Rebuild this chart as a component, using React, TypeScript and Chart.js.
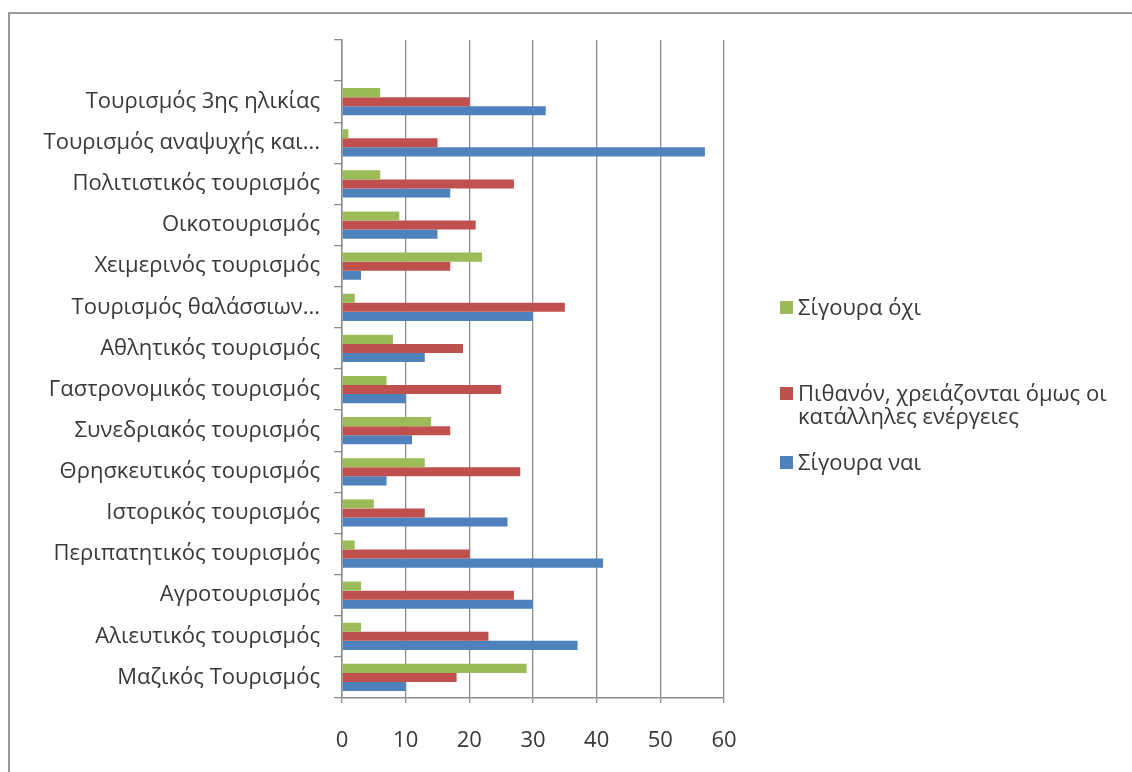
import React, { useEffect, useRef } from "react";
import { Chart, registerables } from "chart.js";

Chart.register(...registerables);

const categories: string[] = [
  "",
  "Τουρισμός 3ης ηλικίας",
  "Τουρισμός αναψυχής και...",
  "Πολιτιστικός τουρισμός",
  "Οικοτουρισμός",
  "Χειμερινός τουρισμός",
  "Τουρισμός θαλάσσιων...",
  "Αθλητικός τουρισμός",
  "Γαστρονομικός τουρισμός",
  "Συνεδριακός τουρισμός",
  "Θρησκευτικός τουρισμός",
  "Ιστορικός τουρισμός",
  "Περιπατητικός τουρισμός",
  "Αγροτουρισμός",
  "Αλιευτικός τουρισμός",
  "Μαζικός Τουρισμός",
];

const seriesNames: string[] = [
  "Σίγουρα όχι",
  "Πιθανόν, χρειάζονται όμως οι κατάλληλες ενέργειες",
  "Σίγουρα ναι",
];

const definitelyNot: (number | null)[] = [null, 6, 1, 6, 9, 22, 2, 8, 7, 14, 13, 5, 2, 3, 3, 29];
const maybe: (number | null)[] = [null, 20, 15, 27, 21, 17, 35, 19, 25, 17, 28, 13, 20, 27, 23, 18];
const definitelyYes: (number | null)[] = [null, 32, 57, 17, 15, 3, 30, 13, 10, 11, 7, 26, 41, 30, 37, 10];

const xTicks: number[] = [0, 10, 20, 30, 40, 50, 60];

const colors = ["#9BBB59", "#C0504D", "#4F81BD"];
const FONT = "'Open Sans', sans-serif";
const FSIZE = 22;

export default function App() {
  const ref = useRef<HTMLCanvasElement | null>(null);

  useEffect(() => {
    if (!ref.current) return;
    const series = [definitelyNot, maybe, definitelyYes];
    const chart = new Chart(ref.current, {
      type: "bar",
      data: {
        labels: categories,
        datasets: series.map((d, i) => ({
          label: seriesNames[i],
          data: d,
          backgroundColor: colors[i],
          borderWidth: 0,
          categoryPercentage: 0.66,
          barPercentage: 1,
        })),
      },
      options: {
        indexAxis: "y",
        animation: false,
        responsive: false,
        maintainAspectRatio: false,
        layout: { padding: { top: 40, right: 408, bottom: 0, left: 0 } },
        plugins: {
          legend: { display: false },
          tooltip: { enabled: false },
        },
        scales: {
          x: {
            min: 0,
            max: 60,
            afterBuildTicks: (s: any) => {
              s.ticks = xTicks.map((v) => ({ value: v }));
            },
            afterFit: (s: any) => {
              s.height = 74;
            },
            grid: {
              color: "#8c8c8c",
              lineWidth: 1.3,
              tickLength: 5,
              drawTicks: true,
            },
            border: { color: "#8c8c8c", width: 1.5 },
            ticks: {
              padding: 25,
              color: "#383838",
              font: { family: FONT, size: FSIZE },
            },
          },
          y: {
            afterFit: (s: any) => {
              s.width = 342;
            },
            grid: {
              offset: true,
              drawOnChartArea: false,
              drawTicks: true,
              tickLength: 8,
              color: "#8c8c8c",
              lineWidth: 1.3,
            },
            border: { color: "#8c8c8c", width: 1.5 },
            ticks: {
              padding: 14,
              color: "#383838",
              font: { family: FONT, size: FSIZE },
              autoSkip: false,
            },
          },
        },
      },
    });
    return () => chart.destroy();
  }, []);

  const legendItem = (i: number, top: number, lines: string[]) => (
    <div
      key={i}
      style={{
        position: "absolute",
        left: 780,
        top,
        display: "flex",
        alignItems: "flex-start",
        fontFamily: FONT,
        fontSize: FSIZE,
        lineHeight: "23px",
        color: "#383838",
        whiteSpace: "nowrap",
      }}
    >
      <div
        style={{
          width: 13,
          height: 13,
          background: colors[i],
          marginTop: 6,
          marginRight: 5,
        }}
      />
      <div>
        {lines.map((l, k) => (
          <div key={k}>{l}</div>
        ))}
      </div>
    </div>
  );

  return (
    <div
      style={{
        position: "fixed",
        left: 0,
        top: 0,
        width: 1132,
        height: 772,
        background: "#ffffff",
        overflow: "hidden",
      }}
    >
      <div
        style={{
          position: "absolute",
          left: 8,
          top: 12,
          width: 1300,
          height: 900,
          borderTop: "2px solid #9a9a9a",
          borderLeft: "2px solid #9a9a9a",
        }}
      />
      <canvas
        ref={ref}
        width={1132}
        height={772}
        style={{ position: "absolute", left: 0, top: 0, width: 1132, height: 772 }}
      />
      {legendItem(0, 295, [seriesNames[0]])}
      {legendItem(1, 381, ["Πιθανόν, χρειάζονται όμως οι", "κατάλληλες ενέργειες"])}
      {legendItem(2, 450, [seriesNames[2]])}
    </div>
  );
}
